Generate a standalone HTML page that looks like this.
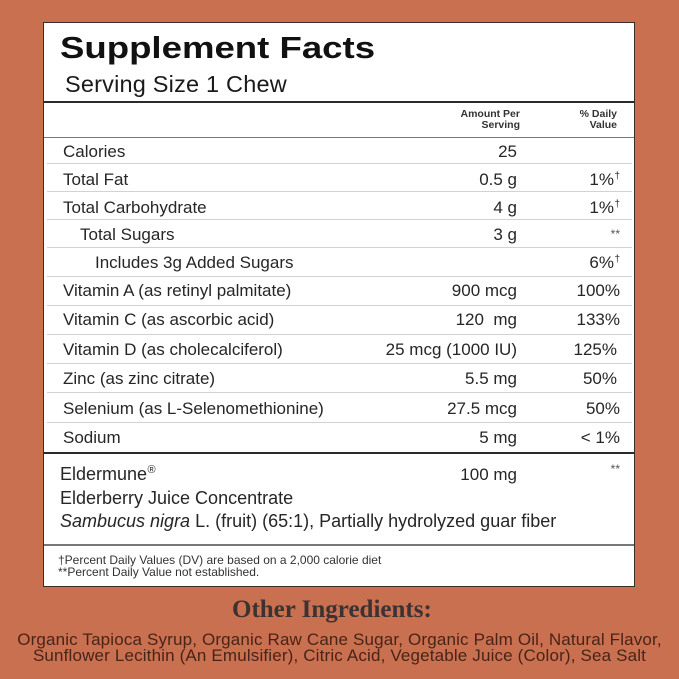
<!DOCTYPE html>
<html>
<head>
<meta charset="utf-8">
<style>
  html, body { margin:0; padding:0; }
  body { width:679px; height:679px; background:#C87050; position:relative; overflow:hidden;
         font-family:"Liberation Sans", Arial, sans-serif; color:#262626; }
  .box { position:absolute; left:43px; top:22px; width:592px; height:565px; box-sizing:border-box;
         background:#fff; border:1.5px solid #3a2c27; }
  .t { position:absolute; white-space:nowrap; line-height:1; }
  .r { text-align:right; }
  .hl { position:absolute; }
  .f17 { font-size:17px; }
  sup { font-size:10px; vertical-align:0; position:relative; top:-6px; margin-left:0.5px; }
</style>
</head>
<body>
<div class="box"></div>

<!-- Title -->
<div class="t" style="left:60px; top:32px; font-size:31px; font-weight:bold; color:#111; transform:scaleX(1.18); transform-origin:0 0;">Supplement Facts</div>
<div class="t" style="left:65px; top:72.8px; font-size:23.5px; letter-spacing:0.2px; color:#1a1a1a;">Serving Size 1 Chew</div>

<!-- lines -->
<div class="hl" style="left:44px; top:101px; width:590px; height:2px; background:#2a2a2a;"></div>
<div class="hl" style="left:44px; top:137px; width:590px; height:1px; background:#777;"></div>

<!-- header -->
<div class="t r" style="right:159px; top:109.4px; font-size:10.5px; font-weight:bold; color:#333;">Amount Per</div>
<div class="t r" style="right:159px; top:120.1px; font-size:10.5px; font-weight:bold; color:#333;">Serving</div>
<div class="t r" style="right:62px; top:109.4px; font-size:10.5px; font-weight:bold; color:#333;">% Daily</div>
<div class="t r" style="right:62px; top:120.1px; font-size:10.5px; font-weight:bold; color:#333;">Value</div>

<!-- row separators -->
<div class="hl" style="left:47px; top:163px; width:585px; height:1px; background:#d2d2d2;"></div>
<div class="hl" style="left:47px; top:191px; width:585px; height:1px; background:#d2d2d2;"></div>
<div class="hl" style="left:47px; top:219px; width:585px; height:1px; background:#d2d2d2;"></div>
<div class="hl" style="left:47px; top:247px; width:585px; height:1px; background:#d2d2d2;"></div>
<div class="hl" style="left:47px; top:276px; width:585px; height:1px; background:#d2d2d2;"></div>
<div class="hl" style="left:47px; top:305px; width:585px; height:1px; background:#d2d2d2;"></div>
<div class="hl" style="left:47px; top:334px; width:585px; height:1px; background:#d2d2d2;"></div>
<div class="hl" style="left:47px; top:363px; width:585px; height:1px; background:#d2d2d2;"></div>
<div class="hl" style="left:47px; top:392px; width:585px; height:1px; background:#d2d2d2;"></div>
<div class="hl" style="left:47px; top:422px; width:585px; height:1px; background:#d2d2d2;"></div>
<div class="hl" style="left:44px; top:452px; width:590px; height:2px; background:#2a2a2a;"></div>
<div class="hl" style="left:44px; top:544px; width:590px; height:2px; background:#777;"></div>

<!-- rows: labels -->
<div class="t f17" style="left:63px; top:142.6px;">Calories</div>
<div class="t f17" style="left:63px; top:170.6px;">Total Fat</div>
<div class="t f17" style="left:63px; top:198.6px;">Total Carbohydrate</div>
<div class="t f17" style="left:80px; top:225.6px;">Total Sugars</div>
<div class="t f17" style="left:95px; top:253.6px;">Includes 3g Added Sugars</div>
<div class="t f17" style="left:63px; top:281.6px;">Vitamin A (as retinyl palmitate)</div>
<div class="t f17" style="left:63px; top:310.6px;">Vitamin C (as ascorbic acid)</div>
<div class="t f17" style="left:63px; top:340.6px;">Vitamin D (as cholecalciferol)</div>
<div class="t f17" style="left:63px; top:369.6px;">Zinc (as zinc citrate)</div>
<div class="t f17" style="left:63px; top:399.6px;">Selenium (as L-Selenomethionine)</div>
<div class="t f17" style="left:63px; top:428.6px;">Sodium</div>

<!-- amounts (right edge 517) -->
<div class="t f17 r" style="right:162px; top:142.6px;">25</div>
<div class="t f17 r" style="right:162px; top:170.6px;">0.5 g</div>
<div class="t f17 r" style="right:162px; top:198.6px;">4 g</div>
<div class="t f17 r" style="right:162px; top:225.6px;">3 g</div>
<div class="t f17 r" style="right:162px; top:281.6px;">900 mcg</div>
<div class="t f17 r" style="right:162px; top:310.6px;">120&nbsp; mg</div>
<div class="t f17 r" style="right:162px; top:340.6px;">25 mcg (1000 IU)</div>
<div class="t f17 r" style="right:162px; top:369.6px;">5.5 mg</div>
<div class="t f17 r" style="right:162px; top:399.6px;">27.5 mcg</div>
<div class="t f17 r" style="right:162px; top:428.6px;">5 mg</div>

<!-- daily values (right edge ~620) -->
<div class="t f17 r" style="right:59px; top:170.6px;">1%<sup>†</sup></div>
<div class="t f17 r" style="right:59px; top:198.6px;">1%<sup>†</sup></div>
<div class="t r" style="right:59px; top:228px; font-size:12px; color:#555;">**</div>
<div class="t f17 r" style="right:59px; top:253.6px;">6%<sup>†</sup></div>
<div class="t f17 r" style="right:59px; top:281.6px;">100%</div>
<div class="t f17 r" style="right:59px; top:310.6px;">133%</div>
<div class="t f17 r" style="right:62px; top:340.6px;">125%</div>
<div class="t f17 r" style="right:62px; top:369.6px;">50%</div>
<div class="t f17 r" style="right:59px; top:399.6px;">50%</div>
<div class="t f17 r" style="right:59px; top:428.6px;">&lt; 1%</div>

<!-- Eldermune -->
<div class="t" style="left:60px; top:464.8px; font-size:18px;">Eldermune<sup style="font-size:11px; top:-7px;">®</sup></div>
<div class="t f17 r" style="right:162px; top:465.6px;">100 mg</div>
<div class="t r" style="right:59px; top:463px; font-size:12px; color:#555;">**</div>
<div class="t" style="left:60px; top:488.8px; font-size:18px;">Elderberry Juice Concentrate</div>
<div class="t" style="left:60px; top:511.8px; font-size:18px;"><i>Sambucus nigra</i> L. (fruit) (65:1), Partially hydrolyzed guar fiber</div>

<!-- footnotes -->
<div class="t" style="left:58px; top:553.8px; font-size:12px; color:#333;">†Percent Daily Values (DV) are based on a 2,000 calorie diet</div>
<div class="t" style="left:58px; top:565.8px; font-size:12px; color:#333;">**Percent Daily Value not established.</div>

<!-- Other ingredients -->
<div class="t" style="left:232px; top:597px; font-size:25px; font-weight:bold; font-family:'Liberation Serif', serif; color:#3d3232;">Other Ingredients:</div>
<div class="t" style="left:0; width:679px; text-align:center; top:630.6px; font-size:17px; letter-spacing:0.16px; color:#4a2318;">Organic Tapioca Syrup, Organic Raw Cane Sugar, Organic Palm Oil, Natural Flavor,</div>
<div class="t" style="left:0; width:679px; text-align:center; top:646.6px; font-size:17px; letter-spacing:0.16px; color:#4a2318;">Sunflower Lecithin (An Emulsifier), Citric Acid, Vegetable Juice (Color), Sea Salt</div>
</body>
</html>
